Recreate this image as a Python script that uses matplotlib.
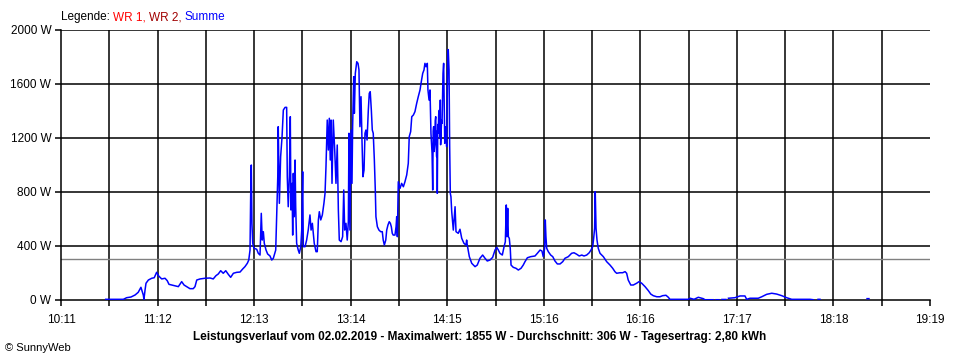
import numpy as np
import matplotlib
matplotlib.use('Agg')
import matplotlib.pyplot as plt

plt.rcParams['font.family'] = ['Liberation Sans', 'DejaVu Sans']

# Minuten seit 10:11 und Leistung in W (Summe)
nan = np.nan
minuten = [28.2, 39.3, 41.4, 44.1, 46.7, 48.7, 50.4, 51.3, 51.9, 52.3, 53.0, 53.6, 55.1, 57.2, 58.8,
           60.3, 61.6, 63.5, 65.6, 67.0, 68.1, 69.8, 71.9, 74.0, 76.1, 77.6, 79.3, 81.3, 83.4, 84.5,
           85.6, 87.7, 90.8, 94.0, 96.0, 97.7, 99.2, 100.7, 102.3, 103.9, 105.5, 107.0, 108.7, 110.8,
           112.9, 114.6, 116.0, 117.5, 118.4, 119.2, 119.6, 120.0, 120.4, 120.9, 121.7, 123.4, 124.4,
           125.5, 126.3, 126.9, 127.6, 128.2, 129.3, 130.3, 131.8, 132.9, 133.9, 135.4, 136.0, 136.7,
           137.0, 137.7, 138.5, 139.4, 140.2, 141.3, 142.3, 142.7, 143.3, 144.0, 144.6, 145.0, 145.7,
           146.1, 146.5, 147.1, 147.6, 148.0, 148.6, 149.6, 150.3, 151.2, 151.8, 152.4, 152.8, 153.9,
           154.9, 155.9, 157.0, 157.7, 158.5, 159.1, 159.7, 160.8, 161.6, 162.3, 162.9, 163.8, 164.8,
           165.8, 166.5, 167.1, 167.9, 168.6, 169.2, 169.8, 170.3, 170.9, 171.7, 172.6, 173.4, 174.2,
           174.9, 175.5, 176.6, 177.6, 178.3, 178.9, 179.7, 180.5, 181.2, 181.6, 182.2, 182.9, 183.5,
           183.9, 184.6, 185.0, 185.6, 186.5, 187.3, 187.9, 188.5, 189.2, 189.8, 190.4, 191.1, 191.7,
           192.3, 193.0, 193.8, 194.4, 195.0, 195.7, 196.3, 196.9, 197.6, 198.2, 198.6, 199.5, 200.5,
           201.6, 202.6, 203.2, 203.9, 204.8, 205.4, 206.2, 207.0, 207.7, 208.3, 208.9, 209.5, 210.6,
           211.3, 211.7, 212.1, 212.7, 213.8, 214.8, 215.9, 216.9, 218.0, 219.0, 219.6, 220.5, 221.2,
           222.2, 223.2, 224.3, 225.3, 226.4, 227.2, 228.1, 228.9, 229.5, 230.2, 231.0, 231.4, 232.1,
           232.7, 233.3, 234.0, 234.4, 234.7, 235.0, 235.3, 235.7, 236.0, 236.3, 236.6, 236.9, 237.1,
           237.3, 237.6, 237.9, 238.2, 238.6, 238.9, 239.2, 239.4, 239.6, 240.0,
           240.3, 240.9, 241.3, 242.0, 242.6, 243.2, 243.9, 244.2, 244.7, 245.1, 245.5, 245.9, 246.4,
           247.4, 248.5, 249.1, 250.5, 251.6, 252.7, 254.1, 255.4, 255.8, 256.2, 257.5, 259.0, 261.1,
           262.5, 264.2, 265.9, 267.4, 268.8, 270.5, 272.2, 273.7, 274.8, 275.8, 276.8, 278.3, 279.4,
           280.2, 280.8, 281.2, 281.7, 282.1, 282.7, 283.3, 283.8, 285.2, 286.9, 288.4, 290.1, 291.5,
           292.6, 294.1, 296.2, 298.9, 300.4, 302.1, 303.3, 304.1, 305.0, 305.4, 305.8, 306.3, 307.3,
           308.8, 310.1, 311.5, 313.0, 314.7, 316.4, 317.8, 319.9, 322.0, 323.5, 325.2, 326.8, 328.4,
           329.8, 331.5, 333.1, 334.2, 335.3, 335.9, 336.5, 336.9, 337.4, 338.0, 338.8, 339.9, 342.0,
           344.1, 346.2, 347.9, 349.3, 350.4, 352.5, 354.2, 355.7, 356.7, 357.7, 359.3, 360.9, 363.0,
           364.5, 366.2, 368.3, 370.4, 371.9, 373.5, 375.7, 377.7, 379.4, 381.5, 383.0, 384.0, 395.6,
           396.7, 399.2, 401.9, 405.0, 406.1, 411.3, nan, 413.0, 414.9, nan, 416.8, 419.3, nan,
           420.9, 425.0, 428.2, 431.3, 432.4, 434.5, 439.7, 441.9, 445.0, 448.2, 451.3, 454.5, 457.6,
           460.8, 472.3, 474.4, nan, 477.4, 478.6, nan, 508.3, 509.5]
watt = [5, 5, 17, 22, 37, 57, 94, 61, 37, 5, 74, 124, 148, 161, 165,
        205, 178, 156, 161, 143, 116, 111, 104, 99, 136, 111, 99, 84, 84, 99,
        148, 156, 161, 163, 156, 180, 193, 217, 198, 217, 190, 168, 198, 205,
        207, 230, 247, 272, 296, 370, 765, 1000, 568, 420, 383, 376, 346,
        333, 642, 444, 506, 420, 370, 341, 326, 296, 309, 370, 617, 913,
        1284, 716, 1061, 1210, 1407, 1427, 1427, 913, 691, 913, 1358, 667, 864,
        481, 938, 617, 1037, 691, 420, 370, 346, 395, 518, 950, 395, 395,
        444, 518, 630, 518, 568, 494, 420, 358, 358, 593, 654, 593, 630,
        716, 790, 987, 1333, 1111, 1346, 1037, 1333, 864, 1333, 1111, 864, 1148,
        667, 444, 432, 469, 815, 518, 568, 444, 580, 1235, 518, 1259, 864,
        1284, 1654, 1383, 1679, 1765, 1753, 1704, 1284, 1506, 1185, 913, 963, 1235,
        1259, 1185, 1407, 1531, 1543, 1407, 1259, 1235, 1037, 815, 617, 543, 518,
        506, 506, 444, 407, 444, 518, 556, 580, 568, 543, 494, 481, 481,
        543, 617, 469, 876, 827, 864, 839, 876, 926, 1012, 1210, 1247, 1358,
        1370, 1395, 1457, 1506, 1556, 1617, 1679, 1704, 1753, 1728, 1753, 1556, 1481,
        1556, 1235, 1087, 815, 1250, 1284, 1100, 1161, 1330, 1358, 1150, 1061, 1250,
        790, 1300, 1235, 1380, 1407, 1200, 1481, 1150, 1210, 1330,
        1309, 1679, 1753, 1161, 1284, 1136, 1827, 1855, 1704, 1136, 790, 765, 654,
        518, 691, 506, 494, 524, 457, 420, 407, 444, 407, 321, 272, 247,
        259, 309, 333, 309, 289, 296, 316, 370, 390, 370, 346, 333, 395,
        432, 704, 469, 679, 469, 457, 383, 259, 242, 235, 222, 235, 259,
        284, 313, 321, 326, 346, 370, 363, 321, 383, 593, 469, 383, 358,
        333, 321, 289, 267, 267, 284, 309, 321, 346, 350, 339, 326, 333,
        326, 333, 350, 370, 395, 457, 531, 802, 531, 444, 383, 346, 321,
        284, 259, 235, 210, 198, 202, 202, 210, 198, 148, 111, 111, 124,
        136, 124, 99, 69, 44, 32, 24, 24, 32, 35, 20, 5, 5,
        13, 5, 20, 10, 2, 2, nan, 2, 2, nan, 4, 4, nan,
        13, 17, 30, 30, 5, 13, 13, 24, 42, 50, 44, 32, 17,
        5, 5, 2, nan, 5, 5, nan, 10, 10]

durchschnitt = 306
zeit_labels = ['10:11', '11:12', '12:13', '13:14', '14:15', '15:16', '16:16', '17:17', '18:18', '19:19']
y_werte = [0, 400, 800, 1200, 1600, 2000]
gesamt = 548  # Minuten von 10:11 bis 19:19

fig = plt.figure(figsize=(9.6, 3.6), dpi=100)
ax = fig.add_axes([61 / 960, 60 / 360, 869 / 960, 270 / 360])

ax.plot(minuten, watt, color='#0000ff', lw=1.1, zorder=3)
ax.axhline(durchschnitt, color='#808080', lw=1.0, zorder=2)

ax.set_xlim(0, gesamt)
ax.set_ylim(0, 2000)

schritt = gesamt / 18
ax.set_xticks([schritt * 2 * i for i in range(len(zeit_labels))])
ax.set_xticklabels(zeit_labels)
ax.set_xticks([schritt * (2 * i + 1) for i in range(9)], minor=True)
ax.set_yticks(y_werte)
ax.set_yticklabels([str(v) + ' W' for v in y_werte])

for i in range(1, 18):
    ax.axvline(schritt * i, color='black', lw=1.1, zorder=1)
for v in y_werte[1:]:
    ax.axhline(v, color='black', lw=1.1, zorder=1)

ax.spines['top'].set_visible(False)
ax.spines['right'].set_visible(False)
ax.spines['left'].set_linewidth(1.1)
ax.spines['bottom'].set_linewidth(1.1)
ax.tick_params(axis='both', which='both', direction='out', length=4, width=1.1,
               labelsize=8.5, colors='black')
ax.tick_params(axis='x', pad=6)
ax.tick_params(axis='y', pad=3)

# Legende oben links, mehrfarbig
renderer = fig.canvas.get_renderer()
teile = [('Legende: ', 'black'), ('WR 1, ', '#ff0000'), ('WR 2, ', '#a00000'), ('Summe', '#0000ff')]
xpos = 61 / 960
for txt, col in teile:
    t = fig.text(xpos, 1 - 17 / 360, txt, color=col, fontsize=8.5, va='center', ha='left')
    bb = t.get_window_extent(renderer=renderer)
    xpos += bb.width / 960

fig.text(0.5, 1 - 337 / 360,
         'Leistungsverlauf vom 02.02.2019 - Maximalwert: 1855 W - Durchschnitt: 306 W - Tagesertrag: 2,80 kWh',
         ha='center', va='center', fontsize=8.5, fontweight='bold')
fig.text(5 / 960, 1 - 348 / 360, '\u00a9 SunnyWeb', ha='left', va='center', fontsize=8)

fig.savefig('out.png', dpi=100)
